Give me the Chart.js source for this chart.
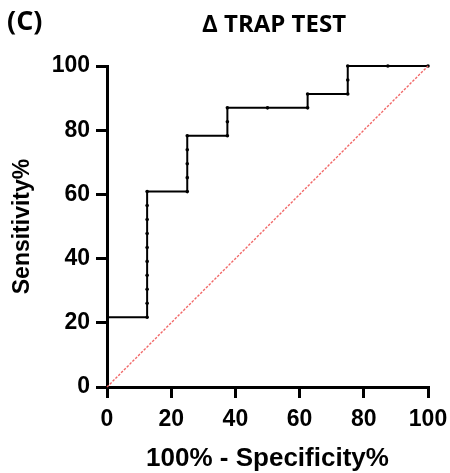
<!DOCTYPE html>
<html>
<head>
<meta charset="utf-8">
<script src="https://cdn.jsdelivr.net/npm/chart.js@4.4.1/dist/chart.umd.min.js"></script>
<style>
  html, body { margin: 0; padding: 0; background: #fff; }
  #wrap { width: 450px; height: 473px; }
</style>
</head>
<body>
<div id="wrap"><canvas id="c" width="450" height="473"></canvas></div>
<script>
// ROC curve points
const fpr = [0, 0, 0, 0, 0, 0,
  12.5, 12.5, 12.5, 12.5, 12.5, 12.5, 12.5, 12.5, 12.5, 12.5,
  25, 25, 25, 25, 25,
  37.5, 37.5, 37.5,
  50,
  62.5, 62.5,
  75, 75, 75,
  87.5,
  100];
const sensitivity = [0, 4.35, 8.70, 13.04, 17.39, 21.74,
  21.74, 26.09, 30.43, 34.78, 39.13, 43.48, 47.83, 52.17, 56.52, 60.87,
  60.87, 65.22, 69.57, 73.91, 78.26,
  78.26, 82.61, 86.96,
  86.96,
  86.96, 91.30,
  91.30, 95.65, 100,
  100,
  100];
const diagonalX = [0, 100];
const diagonalY = [0, 100];
const tickValues = [0, 20, 40, 60, 80, 100];
const panelLabel = "(C)";
const chartTitle = "\u0394 TRAP TEST";
const xTitle = "100% - Specificity%";
const yTitle = "Sensitivity%";

const rocData = fpr.map((x, i) => ({ x: x, y: sensitivity[i] }));
const diagData = diagonalX.map((x, i) => ({ x: x, y: diagonalY[i] }));

const headerPlugin = {
  id: 'header',
  afterDraw(chart) {
    const ctx = chart.ctx;
    ctx.save();
    ctx.fillStyle = '#000';
    ctx.textBaseline = 'middle';
    ctx.font = 'bold 27px "Open Sans", "Liberation Sans", sans-serif';
    ctx.textAlign = 'left';
    ctx.fillText(panelLabel, 7, 22);
    ctx.font = 'bold 24px "Open Sans", "Liberation Sans", sans-serif';
    ctx.textAlign = 'center';
    ctx.fillText(chartTitle, 274, 25);
    ctx.restore();
  }
};

const tickFont = { family: '"Liberation Sans", Arial, sans-serif', size: 23, weight: 'bold' };
const axisCommon = {
  type: 'linear',
  min: 0,
  max: 100,
  afterBuildTicks: (s) => { s.ticks = tickValues.map(v => ({ value: v })); },
  grid: { drawOnChartArea: false, drawTicks: true, tickLength: 11, lineWidth: 3, color: '#000' },
  border: { display: true, width: 3, color: '#000' },
};

new Chart(document.getElementById('c'), {
  type: 'scatter',
  data: {
    datasets: [
      {
        data: diagData,
        showLine: true,
        borderColor: 'rgba(240,95,95,0.95)',
        borderWidth: 1.4,
        borderDash: [2.5, 1.5],
        pointRadius: 0,
        clip: false
      },
      {
        data: rocData,
        showLine: true,
        borderColor: '#000',
        borderWidth: 2,
        pointRadius: (c) => (c.raw && c.raw.x === 0 ? 0 : 1.8),
        pointBackgroundColor: '#000',
        pointBorderColor: '#000',
        pointBorderWidth: 0,
        clip: false
      }
    ]
  },
  options: {
    responsive: false,
    animation: false,
    devicePixelRatio: 1,
    layout: { padding: { top: 66, right: 22, bottom: 0, left: 0 } },
    plugins: { legend: { display: false }, tooltip: { enabled: false }, title: { display: false } },
    scales: {
      x: Object.assign({}, axisCommon, {
        position: 'bottom',
        afterFit: (s) => { s.height = 86; s.paddingLeft = 0; s.paddingRight = 0; },
        ticks: { font: tickFont, color: '#000', padding: 8, maxRotation: 0, autoSkip: false },
        title: {
          display: true, text: xTitle, color: '#000',
          font: { family: '"Liberation Sans", Arial, sans-serif', size: 26, weight: 'bold', lineHeight: 1.1 },
          padding: { top: 0, bottom: 0 }
        }
      }),
      y: Object.assign({}, axisCommon, {
        position: 'left',
        afterFit: (s) => { s.width = 107; s.paddingTop = 0; s.paddingBottom = 0; },
        ticks: { font: tickFont, color: '#000', padding: 6, autoSkip: false },
        title: {
          display: true, text: yTitle, color: '#000',
          font: { family: '"Liberation Sans", Arial, sans-serif', size: 23, weight: 'bold' },
          padding: { top: 9, bottom: 0 }
        }
      })
    }
  },
  plugins: [headerPlugin]
});
</script>
</body>
</html>
